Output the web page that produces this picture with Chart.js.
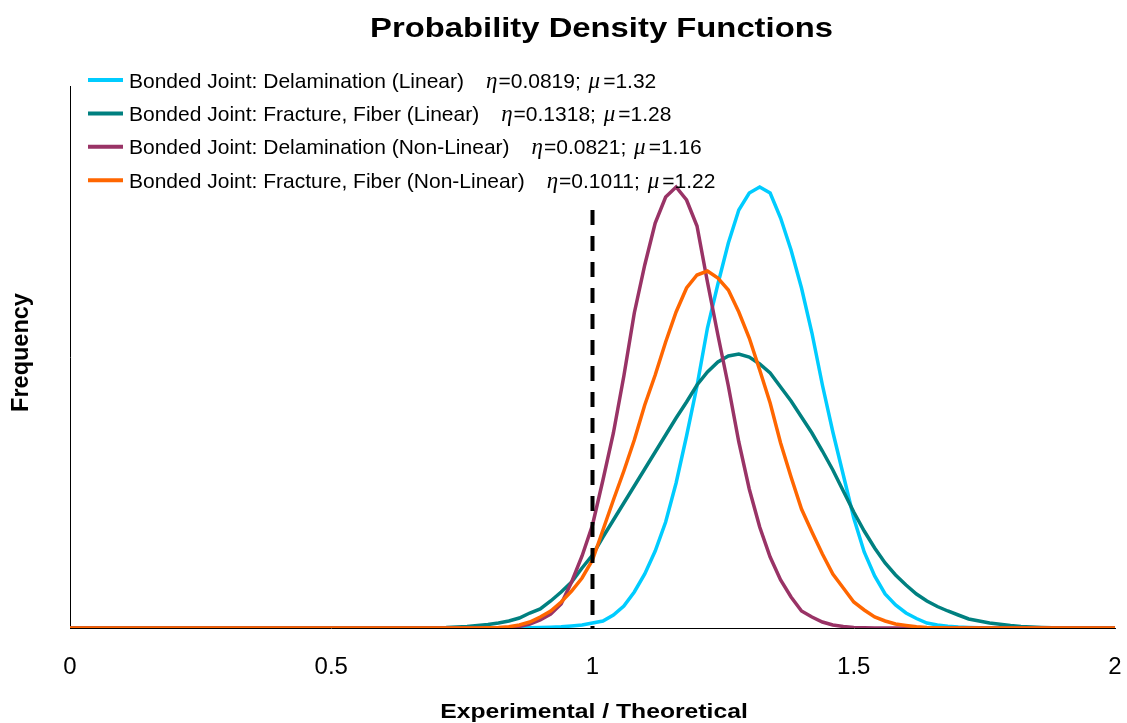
<!DOCTYPE html>
<html>
<head>
<meta charset="utf-8">
<script src="https://cdn.jsdelivr.net/npm/chart.js@4.4.1/dist/chart.umd.min.js"></script>
<style>
  html, body { margin: 0; padding: 0; background: #ffffff; }
  #c { display: block; }
</style>
</head>
<body>
<canvas id="c" width="1127" height="723"></canvas>
<script>
// ---------------- data ----------------
const chartTitle = "Probability Density Functions";
const xAxisTitle = "Experimental / Theoretical";
const yAxisTitle = "Frequency";

const seriesNames = [
  "Bonded Joint: Delamination (Linear)",
  "Bonded Joint: Fracture, Fiber (Linear)",
  "Bonded Joint: Delamination (Non-Linear)",
  "Bonded Joint: Fracture, Fiber (Non-Linear)"
];
const etaValues = ["0.0819", "0.1318", "0.0821", "0.1011"];
const muValues  = ["1.32", "1.28", "1.16", "1.22"];
const seriesColors = ["#00CCFF", "#008080", "#993366", "#FF6600"];

const xTickValues = [0, 0.5, 1, 1.5, 2];
const xStart = 0;
const xEnd = 2;

const xValues = [0.66,0.68,0.70,0.72,0.74,0.76,0.78,0.80,0.82,0.84,
                 0.86,0.88,0.90,0.92,0.94,0.96,0.98,1.00,1.02,1.04,
                 1.06,1.08,1.10,1.12,1.14,1.16,1.18,1.20,1.22,1.24,
                 1.26,1.28,1.30,1.32,1.34,1.36,1.38,1.40,1.42,1.44,
                 1.46,1.48,1.50,1.52,1.54,1.56,1.58,1.60,1.62,1.64,
                 1.66,1.68,1.70,1.72,1.74,1.76,1.78,1.80,1.82,1.84,
                 1.86,1.88,1.90];

const delamLinear = [0,0,0,0,0,0,0,0,0,0,
                     0.002,0.003,0.005,0.008,0.012,0.02,0.03,0.05,0.07,0.13,
                     0.22,0.36,0.54,0.77,1.06,1.45,1.92,2.42,3.00,3.44,
                     3.85,4.18,4.35,4.41,4.35,4.10,3.78,3.40,2.95,2.43,
                     1.96,1.53,1.10,0.76,0.52,0.34,0.23,0.15,0.095,0.05,
                     0.03,0.018,0.01,0.005,0.002,0,0,0,0,0,
                     0,0,0];

const fractureLinear = [0,0.001,0.003,0.005,0.01,0.015,0.025,0.035,0.05,0.07,
                        0.10,0.15,0.19,0.27,0.36,0.46,0.60,0.73,0.91,1.08,
                        1.25,1.42,1.59,1.76,1.93,2.10,2.26,2.43,2.56,2.66,
                        2.72,2.74,2.71,2.64,2.55,2.41,2.27,2.11,1.95,1.77,
                        1.58,1.37,1.16,0.97,0.80,0.65,0.53,0.43,0.34,0.27,
                        0.215,0.17,0.13,0.09,0.07,0.05,0.038,0.025,0.016,0.01,
                        0.005,0.002,0];

const delamNonLinear = [0,0,0,0,0,0,0,0,0,0.005,
                        0.015,0.04,0.08,0.14,0.24,0.46,0.72,1.03,1.48,1.95,
                        2.52,3.15,3.63,4.05,4.31,4.41,4.28,4.02,3.46,2.93,
                        2.42,1.86,1.39,1.01,0.71,0.48,0.31,0.17,0.11,0.06,
                        0.03,0.015,0.006,0.002,0,0,0,0,0,0,
                        0,0,0,0,0,0,0,0,0,0,
                        0,0,0];

const fractureNonLinear = [0,0,0,0,0,0,0,0.002,0.005,0.012,
                           0.03,0.06,0.11,0.17,0.26,0.37,0.50,0.68,0.98,1.28,
                           1.57,1.88,2.23,2.53,2.86,3.16,3.40,3.53,3.57,3.50,
                           3.38,3.16,2.90,2.58,2.25,1.85,1.51,1.19,0.96,0.74,
                           0.54,0.40,0.26,0.18,0.11,0.07,0.04,0.025,0.012,0.005,
                           0.002,0,0,0,0,0,0,0,0,0,
                           0,0,0];

// reference line at Experimental/Theoretical = 1 (top first, so the dash starts at the top)
const refLineX = [1, 1];
const refLineY = [4.18, 0];

const yMin = 0;
const yMax = 5.42;

// ---------------- build datasets ----------------
const seriesValues = [delamLinear, fractureLinear, delamNonLinear, fractureNonLinear];
const drawOrder = [4, 3, 2, 1];

function buildPoints(values) {
  const pts = [{ x: xStart, y: 0 }];
  xValues.forEach((x, i) => pts.push({ x: x, y: values[i] }));
  pts.push({ x: xEnd, y: 0 });
  return pts;
}

const datasets = seriesValues.map((vals, i) => ({
  label: seriesNames[i],
  data: buildPoints(vals),
  showLine: true,
  borderColor: seriesColors[i],
  backgroundColor: seriesColors[i],
  borderWidth: 3.5,
  pointRadius: 0,
  tension: 0,
  fill: false,
  order: drawOrder[i]
}));

datasets.push({
  label: "x = 1",
  data: refLineX.map((x, i) => ({ x: x, y: refLineY[i] })),
  showLine: true,
  borderColor: "#000000",
  borderWidth: 4,
  borderDash: [15, 11],
  pointRadius: 0,
  fill: false,
  order: 0
});

// ---------------- text plugin ----------------
const SANS = '"Liberation Sans", Arial, sans-serif';
const SERIF = '"Liberation Serif", "Times New Roman", serif';

function drawStretched(ctx, text, cx, baseline, font, sx) {
  ctx.save();
  ctx.translate(cx, baseline);
  ctx.scale(sx, 1);
  ctx.font = font;
  ctx.fillStyle = "#000";
  ctx.textAlign = "center";
  ctx.textBaseline = "alphabetic";
  ctx.fillText(text, 0, 0);
  ctx.restore();
}

const textPlugin = {
  id: "texts",
  afterDraw(chart) {
    const ctx = chart.ctx;
    // title
    drawStretched(ctx, chartTitle, 601.5, 37, "bold 27px " + SANS, 1.215);
    // x axis title
    drawStretched(ctx, xAxisTitle, 594, 718, "bold 20px " + SANS, 1.235);
    // y axis title
    ctx.save();
    ctx.translate(28.3, 352.5);
    ctx.rotate(-Math.PI / 2);
    ctx.font = "bold 23.5px " + SANS;
    ctx.fillStyle = "#000";
    ctx.textAlign = "center";
    ctx.textBaseline = "alphabetic";
    ctx.fillText(yAxisTitle, 0, 0);
    ctx.restore();

    // legend
    ctx.save();
    seriesNames.forEach((name, i) => {
      const yc = 80 + i * 33.4;
      ctx.strokeStyle = seriesColors[i];
      ctx.lineWidth = 4;
      ctx.lineCap = "butt";
      ctx.beginPath();
      ctx.moveTo(88, yc);
      ctx.lineTo(123, yc);
      ctx.stroke();

      ctx.fillStyle = "#000";
      ctx.textAlign = "left";
      ctx.textBaseline = "alphabetic";
      ctx.font = "21px " + SANS;
      const base = yc + 7.5;
      ctx.fillText(name, 129, base);
      let x = 129 + ctx.measureText(name).width + 22;

      ctx.font = "italic 23px " + SERIF;
      ctx.fillText("\u03B7", x, base);
      x += ctx.measureText("\u03B7").width + 1;
      ctx.font = "21px " + SANS;
      const s1 = "=" + etaValues[i] + "; ";
      ctx.fillText(s1, x, base);
      x += ctx.measureText(s1).width + 2;
      ctx.font = "italic 23px " + SERIF;
      ctx.fillText("\u03BC", x, base);
      x += ctx.measureText("\u03BC").width + 3;
      ctx.font = "21px " + SANS;
      ctx.fillText("=" + muValues[i], x, base);
    });
    ctx.restore();
  }
};

// ---------------- chart ----------------
new Chart(document.getElementById("c"), {
  type: "scatter",
  data: { datasets: datasets },
  options: {
    responsive: false,
    animation: false,
    devicePixelRatio: 1,
    layout: { padding: { left: 70, right: 12, top: 86, bottom: 0 } },
    plugins: {
      legend: { display: false },
      title: { display: false },
      tooltip: { enabled: false }
    },
    scales: {
      x: {
        type: "linear",
        min: xStart,
        max: xEnd,
        afterBuildTicks(scale) {
          scale.ticks = xTickValues.map(v => ({ value: v }));
        },
        ticks: {
          color: "#000",
          font: { family: SANS, size: 24 },
          padding: 25,
          maxRotation: 0,
          callback: (v) => String(v)
        },
        grid: { display: false, drawTicks: false },
        border: { display: true, color: "#000", width: 1 },
        afterFit(scale) {
          scale.height = 95;
          scale.paddingLeft = 0;
          scale.paddingRight = 0;
        }
      },
      y: {
        type: "linear",
        min: yMin,
        max: yMax,
        ticks: { display: false },
        grid: { display: false, drawTicks: false },
        border: { display: true, color: "#000", width: 1 },
        afterFit(scale) { scale.width = 0; }
      }
    }
  },
  plugins: [textPlugin]
});
</script>
</body>
</html>
